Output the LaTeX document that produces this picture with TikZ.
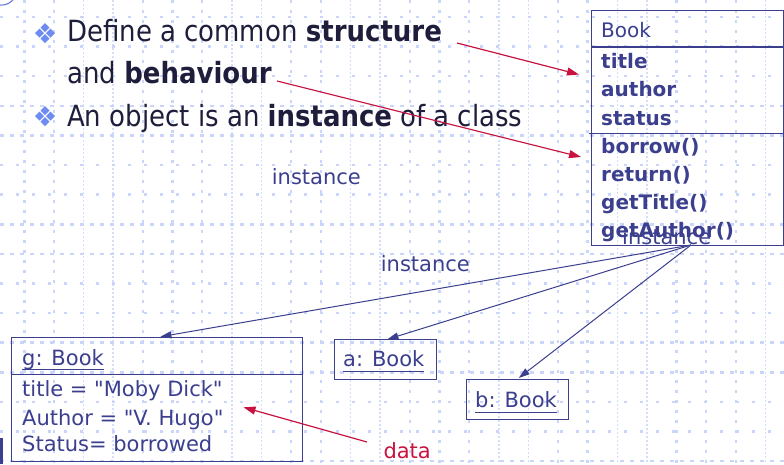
\documentclass[tikz,border=0pt]{standalone}
\usepackage{fontspec}
\setmainfont[Ligatures=TeXOff]{DejaVu Sans}
\newfontfamily\narrowfont[FakeStretch=0.89]{DejaVu Sans}
\usetikzlibrary{arrows.meta}

\definecolor{gridblue}{HTML}{C9D5FA}
\definecolor{gridlight}{HTML}{D4DEFB}
\definecolor{umlblue}{HTML}{3B3F8E}
\definecolor{inkdark}{HTML}{1E1E3C}
\definecolor{datared}{HTML}{C8123F}
\definecolor{bulletblue}{HTML}{6E8CF0}
\definecolor{arcblue}{HTML}{5A6EE0}

% underlined object name (UML instance notation)
\newcommand{\objname}[1]{\setbox0=\hbox{#1}\rlap{\rule[-5.3pt]{\wd0}{1pt}}\box0}

\tikzset{
  vsparse/.style={gridblue, line width=2.4pt, dash pattern=on 3pt off 7pt},
  vdense/.style={gridlight, line width=1.6pt, dash pattern=on 1.8pt off 2.2pt},
  hsparse/.style={gridblue, line width=2.4pt, dash pattern=on 3pt off 13pt},
  hdense/.style={gridblue, line width=2.6pt, dash pattern=on 4pt off 6pt},
  bodytext/.style={anchor=base west, inner sep=0pt, text=inkdark,
    font=\narrowfont\fontsize{29.2}{34}\selectfont},
  umltext/.style={anchor=base west, inner sep=0pt, text=umlblue,
    font=\fontsize{20}{24}\selectfont},
  objtext/.style={anchor=base west, inner sep=0pt, text=umlblue,
    font=\fontsize{21}{25}\selectfont},
  umlbox/.style={draw=umlblue, line width=1.1pt, inner sep=0pt, anchor=north west},
  link/.style={draw=umlblue, line width=1pt, -{Triangle[length=11pt,width=7pt]}},
  note/.style={draw=datared, line width=1.2pt, -{Triangle[length=12pt,width=8pt]}},
  bulletmark/.pic={
    \foreach \dx/\dy in {0/-5.5,-5.5/0,5.5/0,0/5.5}
      \fill[bulletblue] (\dx,\dy-4.5) -- (\dx+4.5,\dy) -- (\dx,\dy+4.5) -- (\dx-4.5,\dy) -- cycle;
  },
}

\begin{document}
\begin{tikzpicture}[x=1pt, y=-1pt]
  \useasboundingbox (0,0) rectangle (784,464);
  \fill[white] (0,0) rectangle (784,464);

  % dotted background grid
  \foreach \k in {0,1,4,5,6,9,10,13,14,15,18,19,22,23,24}
    \draw[vsparse] ({24.3+29.65*\k},0) -- ({24.3+29.65*\k},464);
  \foreach \k in {2,3,7,8,11,12,16,17,20,21,25}
    \draw[vdense] ({24.3+29.65*\k},0) -- ({24.3+29.65*\k},464);
  \foreach \k in {0,1,2,5,6,9,10,13,14}
    \draw[hsparse] (0,{17+29.6*\k}) -- (784,{17+29.6*\k});
  \foreach \k in {3,4,7,8,11,12,15}
    \draw[hdense] (0,{17+29.6*\k}) -- (784,{17+29.6*\k});

  % corner ornaments
  \draw[arcblue, line width=1pt] (1.35,-10.2) circle[radius=15.3];
  \fill[umlblue] (0,438) rectangle (3.3,464);

  % bullet points
  \pic at (45,33) {bulletmark};
  \pic at (45,116) {bulletmark};
  \node[bodytext] (l1) at (67,41.7) {Define a common \textbf{structure}};
  \node[bodytext] (l2) at (67,83) {and \textbf{behaviour}};
  \node[bodytext] (l3) at (67,126.7) {An object is an \textbf{instance} of a class};

  % class Book
  \node[umlbox, minimum width=192pt, minimum height=235pt] (book) at (591,10) {};
  \draw[umlblue, line width=1.1pt] (book.north west) ++(0,37) -- ++(192,0);
  \draw[umlblue, line width=1.1pt] (book.north west) ++(-2.5,123.3) -- ++(194.5,0);
  \node[umltext] (bk-name) at (601,37) {Book};
  \node[umltext] (bk-a1) at (601,68) {\bfseries title};
  \node[umltext] (bk-a2) at (601,96.5) {\bfseries author};
  \node[umltext] (bk-a3) at (601,125) {\bfseries status};
  \node[umltext] (bk-m1) at (601,153) {\bfseries borrow()};
  \node[umltext] (bk-m2) at (601,181) {\bfseries return()};
  \node[umltext] (bk-m3) at (601,209) {\bfseries getTitle()};
  \node[umltext] (bk-m4) at (601,237) {\bfseries getAuthor()};

  % objects
  \node[umlbox, minimum width=290.7pt, minimum height=124pt] (g) at (11,336.7) {};
  \draw[umlblue, line width=1.1pt] (g.north west) ++(0,37.6) -- ++(290.7,0);
  \node[objtext] (g-name) at (22,365) {\objname{g: Book}};
  \node[objtext] (g-a1) at (22,396.7) {title = "Moby Dick"};
  \node[objtext] (g-a2) at (22,425) {Author = "V. Hugo"};
  \node[objtext] (g-a3) at (22,451.7) {Status= borrowed};

  \node[umlbox, minimum width=101.7pt, minimum height=39.7pt] (a) at (334,339.3) {};
  \node[objtext] (a-name) at (343,366.7) {\objname{a: Book}};

  \node[umlbox, minimum width=102pt, minimum height=40pt] (b) at (465.7,379) {};
  \node[objtext] (b-name) at (475,407.3) {\objname{b: Book}};

  % labels
  \node[objtext] (inst1) at (271.7,184.3) {instance};
  \node[objtext] (inst2) at (380.7,271.7) {instance};
  \node[objtext] (inst3) at (622,244) {instance};
  \node[objtext, text=datared] (data) at (383.3,458.3) {data};

  % instance links
  \coordinate (hub) at (691,245);
  \draw[link] (hub) -- ([xshift=3.5pt]g.north);
  \draw[link] (hub) -- ([xshift=2pt]a.north);
  \draw[link] (hub) -- ([xshift=1.5pt,yshift=1pt]b.north);

  % annotation arrows
  \coordinate (s1) at (457,43);
  \coordinate (t1) at (579,74.5);
  \coordinate (s2) at (277,81);
  \coordinate (t2) at (581,157);
  \coordinate (d0) at (367,442);
  \coordinate (d1) at (243.5,407.3);
  \draw[note] (s1) -- (t1);
  \draw[note] (s2) -- (t2);
  \draw[note] (d0) -- (d1);
\end{tikzpicture}
\end{document}
